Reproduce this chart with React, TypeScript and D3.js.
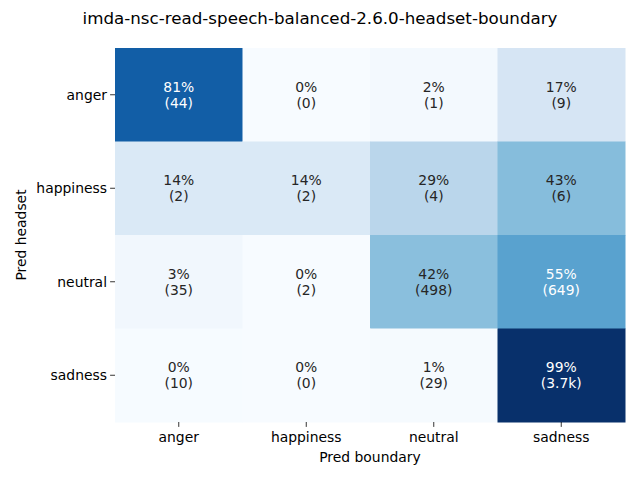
import React from "react";
import * as d3 from "d3";

const labels = ["anger", "happiness", "neutral", "sadness"];
// rows = Pred headset, columns = Pred boundary
const counts = [
  [44, 0, 1, 9],
  [2, 2, 4, 6],
  [35, 2, 498, 649],
  [10, 0, 29, 3700],
];

const blues = [
  "#f7fbff", "#deebf7", "#c6dbef", "#9ecae1", "#6baed6",
  "#4292c6", "#2171b5", "#08519c", "#08306b",
];

const W = 640;
const H = 480;
const margin = { top: 48, right: 15, bottom: 58, left: 115 };
const font = "DejaVu Sans, sans-serif";

function luminance(c: string) {
  const rgb = d3.rgb(c);
  const lin = (v: number) => {
    v = v / 255;
    return v <= 0.03928 ? v / 12.92 : Math.pow((v + 0.055) / 1.055, 2.4);
  };
  return 0.2126 * lin(rgb.r) + 0.7152 * lin(rgb.g) + 0.0722 * lin(rgb.b);
}

function fmtCount(n: number) {
  return n >= 1000 ? `${(n / 1000).toFixed(1)}k` : `${n}`;
}

const App = () => {
  const x = d3.scaleBand().domain(labels).range([margin.left, W - margin.right]);
  const y = d3.scaleBand().domain(labels).range([margin.top, H - margin.bottom]);
  const fracs = counts.map((row) => {
    const s = d3.sum(row);
    return row.map((v) => v / s);
  });
  const maxF = d3.max(fracs.flat()) as number;
  const interp = d3.piecewise(d3.interpolateRgb, blues);
  const color = d3.scaleLinear<number>().domain([0, maxF]).range([0, 1]).clamp(true);

  return (
    <div style={{ position: "fixed", left: 0, top: 0 }}>
      <svg width={W} height={H} style={{ display: "block", background: "#fff" }} fontFamily={font}>
        <text x={W / 2} y={24} textAnchor="middle" fontSize={16.7} fill="#000">
          imda-nsc-read-speech-balanced-2.6.0-headset-boundary
        </text>
        {counts.map((row, i) =>
          row.map((c, j) => {
            const f = fracs[i][j];
            const fill = interp(color(f));
            const tc = luminance(fill) > 0.408 ? "#262626" : "#ffffff";
            const cx = (x(labels[j]) as number) + x.bandwidth() / 2;
            const cy = (y(labels[i]) as number) + y.bandwidth() / 2;
            return (
              <g key={`${i}-${j}`}>
                <rect
                  x={x(labels[j])}
                  y={y(labels[i])}
                  width={x.bandwidth() + 0.5}
                  height={y.bandwidth() + 0.5}
                  fill={fill}
                />
                <text x={cx} y={cy - 8} textAnchor="middle" dominantBaseline="central" fontSize={13.9} fill={tc}>
                  {`${Math.round(f * 100)}%`}
                </text>
                <text x={cx} y={cy + 8} textAnchor="middle" dominantBaseline="central" fontSize={13.9} fill={tc}>
                  {`(${fmtCount(c)})`}
                </text>
              </g>
            );
          })
        )}
        {labels.map((l) => {
          const cy = (y(l) as number) + y.bandwidth() / 2;
          return (
            <g key={`y-${l}`}>
              <line x1={margin.left - 4.9} x2={margin.left} y1={cy} y2={cy} stroke="#000" strokeWidth={0.8} />
              <text x={margin.left - 8} y={cy} textAnchor="end" dominantBaseline="central" fontSize={13.9}>
                {l}
              </text>
            </g>
          );
        })}
        {labels.map((l) => {
          const cx = (x(l) as number) + x.bandwidth() / 2;
          const by = H - margin.bottom;
          return (
            <g key={`x-${l}`}>
              <line x1={cx} x2={cx} y1={by} y2={by + 4.9} stroke="#000" strokeWidth={0.8} />
              <text x={cx} y={by + 15} textAnchor="middle" dominantBaseline="central" fontSize={13.9}>
                {l}
              </text>
            </g>
          );
        })}
        <text x={(margin.left + W - margin.right) / 2} y={457} textAnchor="middle" dominantBaseline="central" fontSize={13.9}>
          Pred boundary
        </text>
        <text
          transform={`translate(21, ${(margin.top + H - margin.bottom) / 2}) rotate(-90)`}
          textAnchor="middle"
          dominantBaseline="central"
          fontSize={13.9}
        >
          Pred headset
        </text>
      </svg>
    </div>
  );
};

export default App;
